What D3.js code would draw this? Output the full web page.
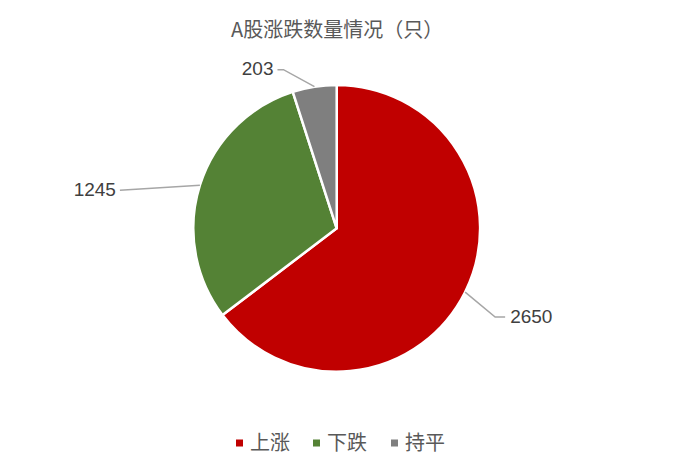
<!DOCTYPE html>
<html>
<head>
<meta charset="utf-8">
<script src="https://cdn.jsdelivr.net/npm/d3@7"></script>
<style>
  html, body { margin: 0; padding: 0; background: #fff; }
</style>
</head>
<body>
<div id="chart-area"></div>
<script>
// Data
const categories = ["上涨", "下跌", "持平"]
const values = [2650, 1245, 203]
const colors = ["#C00000", "#548235", "#7F7F7F"]

// Layout
const WIDTH = 693
const HEIGHT = 473
const CX = 336.7
const CY = 228.3
const R = 143.4

// leader line elbows (dx, dy from slice edge) and end length
const leaders = [
	{ elbow: [30, 25], end: 10 },
	{ elbow: [-80, 5], end: 0 },
	{ elbow: [-31, -17], end: -6 }
]

const svg = d3.select("#chart-area").append("svg")
	.attr("width", WIDTH)
	.attr("height", HEIGHT)

// Title
svg.append("text")
	.attr("x", CX + 0.5)
	.attr("y", 37)
	.attr("text-anchor", "middle")
	.attr("font-family", "'Noto Sans CJK SC', sans-serif")
	.attr("font-size", "20px")
	.attr("fill", "#595959")
	.text("A股涨跌数量情况（只）")

const g = svg.append("g")
	.attr("transform", `translate(${CX}, ${CY})`)

const pie = d3.pie().sort(null).value(d => d)
const arcs = pie(values)

const arc = d3.arc().innerRadius(0).outerRadius(R)

g.selectAll("path.slice")
	.data(arcs)
	.enter().append("path")
	.attr("class", "slice")
	.attr("d", arc)
	.attr("fill", (d, i) => colors[i])
	.attr("stroke", "#fff")
	.attr("stroke-width", 2.5)
	.attr("stroke-linejoin", "round")

// Leader lines + labels
arcs.forEach((d, i) => {
	const a = (d.startAngle + d.endAngle) / 2
	const x0 = R * Math.sin(a)
	const y0 = -R * Math.cos(a)
	const x1 = x0 + leaders[i].elbow[0]
	const y1 = y0 + leaders[i].elbow[1]
	const x2 = x1 + leaders[i].end
	g.append("polyline")
		.attr("points", `${x0},${y0} ${x1},${y1} ${x2},${y1}`)
		.attr("fill", "none")
		.attr("stroke", "#A6A6A6")
		.attr("stroke-width", 1.5)

	const right = x2 >= x1 && leaders[i].end > 0
	g.append("text")
		.attr("x", right ? x2 + 5 : x2 - 4)
		.attr("y", y1 - 1)
		.attr("dy", "0.35em")
		.attr("text-anchor", right ? "start" : "end")
		.attr("font-family", "'Liberation Sans', sans-serif")
		.attr("font-size", "19px")
		.attr("fill", "#404040")
		.text(values[i])
})

// Legend
const legendX = [236, 313, 391]
const legend = svg.append("g")
	.attr("transform", "translate(0, 443)")

categories.forEach((c, i) => {
	const row = legend.append("g")
		.attr("transform", `translate(${legendX[i]}, 0)`)
	row.append("rect")
		.attr("x", 0)
		.attr("y", -3.5)
		.attr("width", 7)
		.attr("height", 7)
		.attr("fill", colors[i])
	row.append("text")
		.attr("x", 14)
		.attr("y", 0)
		.attr("dy", "0.36em")
		.attr("font-family", "'Noto Sans CJK SC', sans-serif")
		.attr("font-size", "20px")
		.attr("fill", "#595959")
		.text(c)
})
</script>
</body>
</html>
